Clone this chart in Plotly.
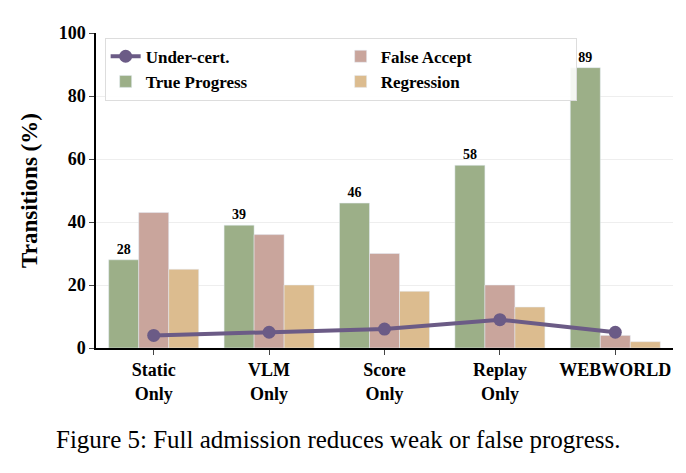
import plotly.graph_objects as go

methods = ["Static<br>Only", "VLM<br>Only", "Score<br>Only", "Replay<br>Only", "WEBWORLD"]
true_progress = [28, 39, 46, 58, 89]
false_accept = [43, 36, 30, 20, 4]
regression = [25, 20, 18, 13, 2]
under_cert = [4, 5, 6, 9, 5]

font = "Liberation Serif"

fig = go.Figure()
fig.add_trace(go.Bar(x=methods, y=true_progress, name="True Progress", marker_color="#9caf88",
                     text=true_progress, textposition="outside", cliponaxis=False,
                     textfont=dict(size=14, family=font, color="black", weight="bold"),
                     legendrank=3))
fig.add_trace(go.Bar(x=methods, y=false_accept, name="False Accept", marker_color="#c9a59c",
                     legendrank=2))
fig.add_trace(go.Bar(x=methods, y=regression, name="Regression", marker_color="#dcbc8f",
                     legendrank=4))
fig.add_trace(go.Scatter(x=methods, y=under_cert, name="Under-cert.", mode="lines+markers",
                         line=dict(color="#6b5b86", width=4), marker=dict(size=13, color="#6b5b86"),
                         legendrank=1))

fig.update_layout(
    width=686, height=473, barmode="group", bargap=0.22, bargroupgap=0,
    plot_bgcolor="white", paper_bgcolor="white",
    margin=dict(l=88, r=21, t=25, b=133),
    font=dict(family=font, size=16, color="black"),
    legend=dict(x=0.015, y=0.985, xanchor="left", yanchor="top", orientation="h",
                entrywidth=190, entrywidthmode="pixels",
                bordercolor="#dddddd", borderwidth=1, bgcolor="rgba(255,255,255,0.9)",
                font=dict(size=17, family=font, weight="bold")),
    yaxis=dict(range=[0, 100], dtick=20, showgrid=True, gridcolor="#eeeeee",
               showline=True, linecolor="black", linewidth=1.5, ticks="outside",
               tickfont=dict(size=18, weight="bold"),
               title=dict(text="Transitions (%)", font=dict(size=23, weight="bold"))),
    xaxis=dict(showline=True, linecolor="black", linewidth=1.5, ticks="outside",
               tickfont=dict(size=18, weight="bold")),
    uniformtext=dict(minsize=12, mode="show"),
)
fig.add_annotation(text="Figure 5: Full admission reduces weak or false progress.",
                   xref="paper", yref="paper", x=0.42, y=-0.34, showarrow=False,
                   font=dict(size=25, family=font))
fig.write_html("out.html")
